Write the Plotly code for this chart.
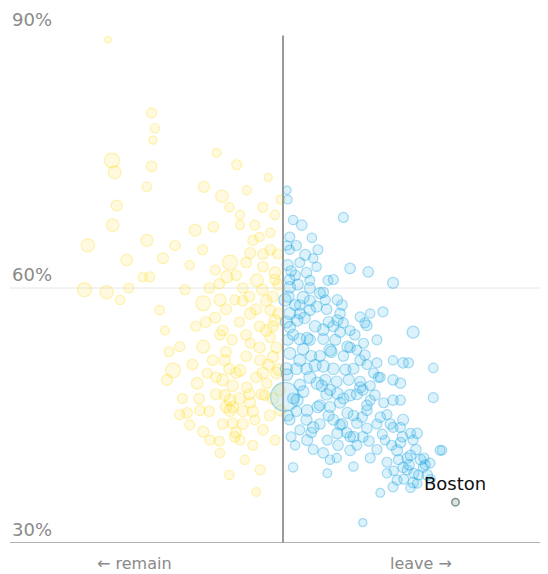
import numpy as np
import plotly.graph_objects as go

# Remain-majority areas: leave share (%), y value (%), electorate (thousands)
remain_leave = [23.9, 30.4, 30.9, 30.6, 24.5, 24.9, 30.4, 29.7, 38.2, 40.9, 43.1, 40.1, 44.6, 47.0, 47.8,
                25.2, 24.6, 20.9, 26.7, 29.7, 32.1, 30.1, 36.9, 39.6, 42.1, 45.1, 46.1, 48.1, 41.6, 43.6,
                45.5, 48.1, 48.8, 20.4, 23.7, 29.1, 31.6, 38.1, 34.6, 38.1, 33.6, 32.7, 37.2, 35.7, 39.9,
                45.1, 48.1, 40.6, 41.0, 38.7, 42.1, 45.1, 44.6, 47.6, 36.1, 38.1, 42.5, 43.6, 40.6, 47.0,
                46.6, 48.5, 48.1, 45.1, 43.6, 45.8, 46.9, 49.3, 48.8, 46.6, 49.3, 45.8, 48.8, 44.3, 39.9,
                36.1, 35.4, 32.4, 25.7, 33.9, 47.3, 49.6, 42.4, 41.3, 43.6, 40.6, 42.8, 49.6, 48.8, 42.1,
                41.3, 39.1, 34.6, 37.6,
                47.0, 48.5, 47.5, 49.0, 46.0, 48.5, 44.0, 42.5, 43.0, 41.0, 44.5, 46.5, 43.5, 41.5, 44.0,
                39.0, 37.0, 36.5, 40.0, 39.0, 44.5, 46.5, 49.2, 49.3, 49.5, 45.5, 42.0, 46.0, 40.5, 35.0,
                33.0, 27.0, 38.0, 42.0, 44.0, 47.8, 43.0, 41.5, 45.0, 42.5,
                47.5, 46.0, 48.5, 46.5, 44.5, 47.0, 45.5, 43.5, 41.5, 42.0, 40.0, 44.0, 42.8, 48.0, 46.8,
                48.8, 47.0, 43.0, 40.5, 38.5, 41.0, 45.0, 39.5, 37.5, 49.0]
remain_y = [89.2, 80.6, 78.8, 77.4, 75.0, 73.6, 74.3, 71.9, 71.9, 70.8, 74.5, 75.9, 71.5, 69.5, 73.0,
            69.7, 67.4, 65.0, 63.3, 65.6, 63.5, 61.3, 66.8, 67.2, 63.0, 64.1, 60.9, 66.5, 61.3, 67.4,
            65.6, 64.5, 61.8, 59.8, 59.5, 61.3, 57.4, 58.2, 53.1, 53.1, 50.3, 49.2, 48.8, 45.3, 56.5,
            57.0, 57.4, 54.5, 49.2, 50.0, 46.8, 46.5, 48.3, 48.8, 43.9, 43.1, 44.1, 42.1, 40.6, 43.3,
            38.6, 51.9, 54.2, 53.5, 68.6, 67.4, 59.8, 60.4, 56.2, 51.5, 50.4, 44.5, 42.1, 39.8, 62.1,
            62.7, 59.8, 55.0, 58.6, 65.0, 47.4, 45.6, 53.9, 51.5, 50.3, 58.6, 58.6, 70.4, 68.6, 45.6,
            47.4, 42.1, 45.1, 45.6,
            62.5, 59.0, 55.0, 53.0, 49.5, 47.0, 45.5, 48.5, 43.0, 44.0, 52.0, 55.5, 56.0, 57.5, 60.0,
            60.0, 55.5, 51.0, 47.5, 45.5, 63.0, 66.0, 64.0, 57.0, 48.0, 41.5, 38.0, 36.0, 42.0, 47.0,
            52.5, 60.0, 64.5, 69.5, 58.5, 51.0, 50.0, 52.5, 47.5, 46.0,
            58.5, 57.5, 55.5, 53.0, 54.5, 50.0, 45.5, 47.0, 46.0, 50.5, 49.5, 44.0, 42.5, 45.0, 47.5,
            61.0, 64.0, 61.5, 60.5, 56.0, 55.0, 59.0, 51.5, 47.0, 50.0]
remain_pop = [40, 90, 80, 60, 200, 150, 100, 80, 110, 140, 90, 70, 80, 90, 60,
              110, 140, 160, 120, 130, 110, 90, 130, 100, 200, 110, 150, 80, 130, 70,
              90, 100, 120, 180, 160, 80, 80, 200, 90, 150, 200, 110, 120, 100, 110,
              120, 100, 100, 130, 90, 120, 110, 100, 90, 90, 110, 100, 90, 80, 100,
              90, 120, 100, 90, 80, 90, 110, 100, 120, 110, 120, 90, 90, 80, 90,
              80, 90, 70, 80, 90, 100, 110, 100, 110, 120, 130, 90, 70, 80, 130,
              110, 90, 90, 100,
              100, 110, 120, 110, 110, 120, 110, 120, 110, 100, 100, 100, 90, 110, 100,
              100, 90, 100, 110, 100, 100, 80, 90, 110, 110, 90, 80, 70, 90, 90,
              90, 90, 90, 80, 100, 110, 110, 100, 110, 120,
              120, 110, 110, 110, 100, 120, 110, 120, 120, 110, 100, 110, 100, 110, 110,
              100, 100, 100, 100, 100, 110, 100, 100, 100, 120]

# Leave-majority areas
leave_leave = [50.6, 50.7, 59.0, 52.8, 51.0, 54.3, 55.2, 53.3, 54.5, 60.0, 62.7, 66.4, 64.9, 56.7, 51.0,
               53.0, 55.5, 58.1, 51.0, 54.0, 58.5, 61.5, 63.0, 62.5, 69.4, 53.6, 58.1, 51.0, 59.6, 64.0,
               57.0, 67.9, 64.0, 51.0, 66.4, 61.5, 55.1, 58.1, 52.1, 53.6, 57.0, 62.5, 67.5, 64.5, 59.6,
               54.5, 58.1, 61.9, 67.5, 53.6, 69.4, 60.0, 67.0, 56.0, 52.5, 59.0, 54.0, 61.0, 72.4, 56.3,
               61.9, 72.4, 61.0, 69.0, 56.6, 60.5, 70.5, 73.7, 67.9, 70.9, 51.5, 56.6, 67.0, 69.4, 64.5,
               61.9, 62.2, 66.4, 68.7, 64.2, 67.5, 63.0, 66.4, 67.9, 70.0, 66.4, 73.4, 67.5, 71.9, 65.5,
               68.5, 71.5, 66.4, 69.0, 50.3, 50.7, 51.8, 50.3, 52.1, 50.7, 52.5, 50.6, 52.5, 51.0, 52.5,
               54.8, 56.0, 59.3, 60.0, 55.5, 58.5, 51.0, 52.2, 56.3, 60.7, 63.7, 65.2, 57.0, 51.8, 54.0,
               57.8, 62.2, 65.5, 69.0, 70.2,
               51.5, 52.0, 53.5, 50.8, 52.5, 54.8, 56.5, 57.5, 55.0, 51.5, 53.0, 55.5, 57.5, 59.0, 60.5,
               61.5, 63.0, 52.0, 54.0, 56.5, 58.5, 60.5, 62.5, 64.0, 51.5, 53.5, 55.5, 57.5, 59.5, 61.0,
               63.0, 52.0, 54.5, 58.0, 60.5, 65.5, 68.5, 69.8, 71.0, 66.0, 65.0, 64.5, 62.0, 60.0, 58.5,
               56.0, 54.0, 50.6, 51.2, 50.5, 50.5, 50.7, 51.2, 68.0, 70.0, 72.0, 66.5, 64.0, 62.5, 58.0,
               51.8, 53.2, 55.0, 56.8, 58.8, 52.5, 54.2, 56.0, 57.2, 59.8, 61.0, 62.5, 58.8, 60.0, 61.8,
               55.2, 53.0, 56.8, 54.2, 58.2, 62.8, 64.8, 66.2, 67.8, 68.8, 67.2, 69.5, 71.2, 51.0, 52.5,
               54.0, 56.0, 57.5, 60.0, 61.5, 63.5, 55.8, 57.0, 59.0, 53.5]
leave_y = [71.5, 70.4, 68.3, 67.4, 66.0, 65.9, 64.5, 63.9, 63.5, 62.3, 61.9, 60.6, 57.2, 60.9, 60.1,
           58.9, 59.4, 58.6, 57.0, 57.4, 57.0, 56.6, 57.0, 55.6, 54.8, 54.1, 56.2, 55.4, 53.1, 53.9,
           52.7, 51.2, 51.2, 52.3, 49.2, 48.3, 48.8, 47.6, 46.8, 45.6, 46.0, 45.6, 46.8, 44.8, 45.3,
           43.6, 42.9, 42.5, 43.6, 42.1, 42.1, 40.9, 40.9, 40.6, 58.0, 55.9, 53.9, 52.7, 50.6, 49.2,
           48.0, 47.1, 44.1, 42.9, 42.1, 42.5, 39.8, 40.9, 38.9, 38.9, 38.9, 38.2, 37.4, 37.1, 35.9,
           32.4, 55.9, 51.5, 51.2, 49.5, 48.8, 46.8, 46.8, 44.5, 42.9, 43.6, 40.9, 41.8, 39.4, 38.2,
           38.6, 38.0, 36.6, 36.5, 47.2, 62.7, 61.5, 58.6, 56.2, 53.9, 51.5, 49.8, 48.6, 44.5, 43.3,
           50.9, 55.1, 50.4, 47.4, 46.2, 43.9, 64.5, 60.4, 58.6, 54.5, 47.4, 42.1, 39.8, 41.5, 60.9,
           53.9, 52.1, 45.1, 40.3, 38.0,
           68.0, 65.0, 61.8, 59.0, 57.0, 55.5, 57.5, 61.0, 62.5, 54.5, 52.8, 52.0, 50.5, 52.0, 50.5,
           49.0, 48.5, 50.5, 49.5, 47.5, 46.5, 45.0, 43.5, 41.0, 47.0, 44.5, 44.0, 44.5, 43.0, 41.5,
           40.0, 45.5, 41.0, 40.0, 39.0, 39.5, 40.0, 41.0, 40.0, 44.0, 46.5, 49.5, 53.5, 55.0, 54.8,
           54.0, 58.5, 65.0, 62.0, 56.0, 50.5, 45.0, 42.5, 37.5, 37.0, 37.5, 38.5, 44.0, 51.0, 49.0,
           58.0, 56.5, 57.8, 56.0, 58.0, 54.0, 52.0, 50.8, 52.5, 49.2, 47.5, 46.2, 44.0, 42.5, 44.8,
           46.0, 47.8, 45.0, 43.0, 41.5, 42.0, 42.8, 41.5, 42.5, 39.2, 39.8, 38.2, 39.2, 61.0, 63.0,
           60.0, 59.5, 55.5, 53.0, 51.5, 50.0, 48.5, 48.0, 47.0, 50.5]
leave_pop = [60, 70, 90, 100, 90, 80, 90, 110, 80, 100, 100, 110, 90, 90, 120,
             130, 110, 100, 130, 110, 100, 90, 80, 100, 130, 120, 110, 120, 110, 90,
             130, 100, 90, 130, 100, 110, 140, 120, 130, 120, 110, 100, 90, 100, 110,
             120, 110, 100, 90, 110, 90, 100, 110, 100, 100, 90, 110, 90, 80, 110,
             100, 90, 100, 90, 90, 110, 100, 80, 100, 90, 80, 70, 90, 100, 70,
             60, 90, 80, 90, 90, 100, 90, 100, 110, 100, 90, 90, 100, 90, 80,
             90, 100, 90, 80, 750, 110, 100, 140, 120, 110, 130, 120, 120, 100, 90,
             130, 120, 110, 120, 110, 100, 80, 110, 90, 100, 100, 80, 80, 80, 90,
             110, 100, 90, 100, 90,
             80, 90, 100, 120, 110, 120, 100, 90, 80, 110, 120, 110, 120, 100, 110,
             100, 90, 120, 130, 120, 110, 100, 100, 90, 110, 110, 100, 110, 100, 90,
             90, 100, 90, 80, 80, 90, 100, 100, 90, 100, 90, 90, 90, 90, 100,
             110, 110, 80, 100, 130, 130, 110, 90, 90, 80, 80, 80, 90, 90, 110,
             110, 120, 110, 110, 100, 120, 110, 130, 120, 110, 110, 100, 110, 100, 100,
             120, 120, 110, 100, 100, 100, 90, 90, 100, 100, 90, 90, 90, 100, 90,
             110, 100, 110, 100, 100, 90, 120, 110, 110, 120]

boston_leave = [75.7]
boston_y = [34.8]
boston_pop = [50]

y_ticks = [90, 60, 30]
y_tick_labels = ["90%", "60%", "30%"]

def diam(p):
    return np.sqrt(np.array(p, dtype=float)) * 1.05

fig = go.Figure()
fig.add_trace(go.Scatter(
    x=remain_leave, y=remain_y, mode="markers",
    marker=dict(size=diam(remain_pop), sizemode="diameter",
                color="rgba(255,226,30,0.2)",
                line=dict(color="rgba(252,215,0,0.42)", width=1.2)),
    hoverinfo="skip", showlegend=False))
fig.add_trace(go.Scatter(
    x=leave_leave, y=leave_y, mode="markers",
    marker=dict(size=diam(leave_pop), sizemode="diameter",
                color="rgba(30,172,230,0.22)",
                line=dict(color="rgba(20,162,225,0.52)", width=1.2)),
    hoverinfo="skip", showlegend=False))
fig.add_trace(go.Scatter(
    x=boston_leave, y=boston_y, mode="markers",
    marker=dict(size=diam(boston_pop), sizemode="diameter",
                color="rgba(110,150,140,0.35)",
                line=dict(color="rgba(60,85,80,0.9)", width=1.5)),
    hoverinfo="skip", showlegend=False))

# reference lines
fig.add_shape(type="line", xref="paper", x0=0, x1=1, y0=60, y1=60,
              line=dict(color="#e6e6e6", width=1), layer="below")
fig.add_shape(type="line", xref="paper", x0=0, x1=1, y0=30, y1=30,
              line=dict(color="#b0b0b0", width=2))
fig.add_shape(type="line", x0=50, x1=50, y0=30, y1=89.7,
              line=dict(color="#9a9a9a", width=2))

for v, t in zip(y_ticks, y_tick_labels):
    fig.add_annotation(x=0, xref="paper", y=v, yref="y", text=t, showarrow=False,
                       xanchor="left", yanchor="bottom", xshift=0, yshift=1,
                       font=dict(family="DejaVu Sans", size=18, color="#8a8a8a"))

fig.add_annotation(x=27.9, y=30, text="\u2190 remain", showarrow=False, yanchor="top", yshift=-9,
                   font=dict(family="DejaVu Sans", size=16, color="#8a8a8a"))
fig.add_annotation(x=70.5, y=30, text="leave \u2192", showarrow=False, yanchor="top", yshift=-9,
                   font=dict(family="DejaVu Sans", size=16, color="#8a8a8a"))
fig.add_annotation(x=boston_leave[0], y=boston_y[0], text="Boston", showarrow=False,
                   yanchor="bottom", yshift=6,
                   font=dict(family="DejaVu Sans", size=18, color="#111111"))

fig.update_xaxes(range=[9.3, 89.5], visible=False, fixedrange=True)
fig.update_yaxes(range=[30, 90], visible=False, fixedrange=True)
fig.update_layout(width=548, height=566, margin=dict(l=2, r=8, t=25, b=31),
                  paper_bgcolor="white", plot_bgcolor="white")
fig.write_html("out.html")
